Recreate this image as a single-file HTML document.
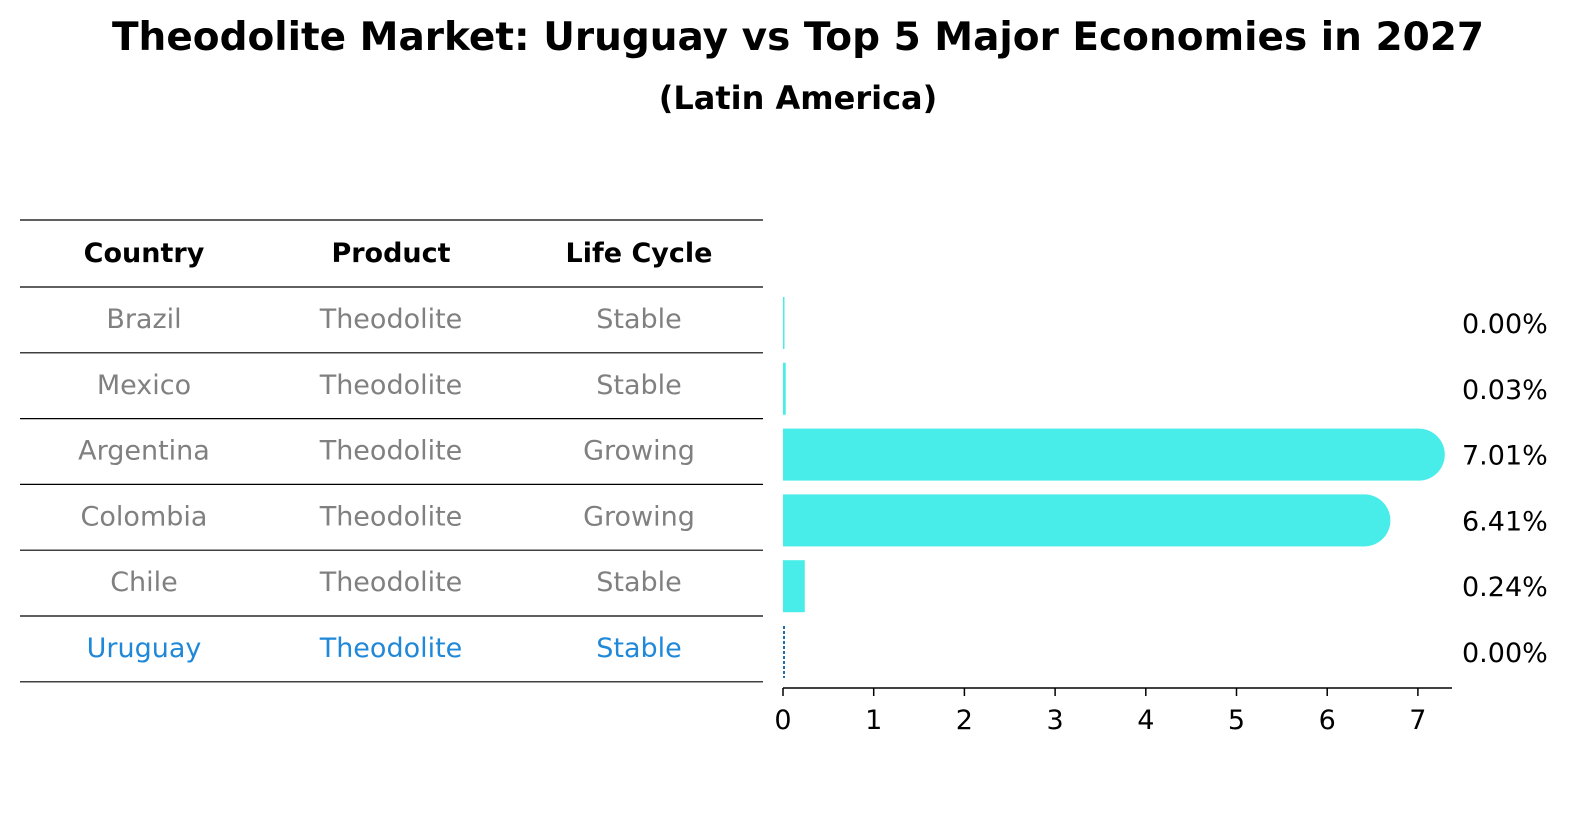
<!DOCTYPE html>
<html><head><meta charset="utf-8"><style>
body{margin:0;background:#fff;font-family:"Liberation Sans","DejaVu Sans",sans-serif;}
svg text{font-family:"DejaVu Sans","Liberation Sans",sans-serif;}
</style></head><body>
<svg width="1586" height="823" viewBox="0 0 1586 823">
<text x="798" y="50" text-anchor="middle" font-size="39" font-weight="bold">Theodolite Market: Uruguay vs Top 5 Major Economies in 2027</text>
<text x="798" y="109" text-anchor="middle" font-size="32" font-weight="bold">(Latin America)</text>
<g id="table"></g>
<g id="bars"></g>
</svg>
<script>
const countries=["Brazil","Mexico","Argentina","Colombia","Chile","Uruguay"];
const products=["Theodolite","Theodolite","Theodolite","Theodolite","Theodolite","Theodolite"];
const cycles=["Stable","Stable","Growing","Growing","Stable","Stable"];
const values=[0.00,0.03,7.01,6.41,0.24,0.00];
const ticks=[0,1,2,3,4,5,6,7];
const NS="http://www.w3.org/2000/svg";
function mk(t,a,p){const e=document.createElementNS(NS,t);for(const k in a)e.setAttribute(k,a[k]);p.appendChild(e);return e;}
const tbl=document.getElementById('table'),bars=document.getElementById('bars');
const rowY=i=>287+i*65.8, colX=[144,391,639];
const x0=783, sx=v=>x0+v*90.7;
const FS=27;
[220,287].forEach(y=>{const l=mk('line',{x1:20,x2:763,y1:y,y2:y,stroke:'#000','stroke-width':1.2},tbl);});
["Country","Product","Life Cycle"].forEach((h,j)=>{const t=mk('text',{x:colX[j],y:262,'text-anchor':'middle','font-size':FS,'font-weight':'bold'},tbl);t.textContent=h;});
countries.forEach((c,i)=>{
  const y=rowY(i), col=c==="Uruguay"?'#1f88d9':'#808080';
  [c,products[i],cycles[i]].forEach((v,j)=>{const t=mk('text',{x:colX[j],y:y+41,'text-anchor':'middle','font-size':FS,fill:col},tbl);t.textContent=v;});
  const l=mk('line',{x1:20,x2:763,y1:y+65.8,y2:y+65.8,stroke:'#000','stroke-width':1.2},tbl);
  
  
  const cy=y+36, h=52, w=values[i]*90.7;
  if(c==="Uruguay"){
    const b=mk('line',{x1:x0+1,x2:x0+1,y1:cy-26,y2:cy+26,stroke:'#1f6fb0','stroke-width':2,'stroke-dasharray':'3,2'},bars);
    
    
  } else {
    const b=mk('rect',{x:x0,y:cy-h/2,width:Math.max(w,1.5),height:h,fill:'#48ece8'},bars);
    
    
    if(w>h){const cap=mk('circle',{cx:x0+w,cy:cy,r:h/2,fill:'#48ece8'},bars);}
  }
  const t=mk('text',{x:1462,y:cy+10,'font-size':FS},bars);t.textContent=values[i].toFixed(2)+'%';
  
  
});
const ax=mk('line',{x1:x0,x2:1452,y1:688,y2:688,stroke:'#000','stroke-width':1.5},bars);


ticks.forEach(v=>{
  const tk=mk('line',{x1:sx(v),x2:sx(v),y1:688,y2:696,stroke:'#000','stroke-width':1.5},bars);
  
  
  const t=mk('text',{x:sx(v),y:729,'text-anchor':'middle','font-size':FS},bars);t.textContent=v;
  
  
});
</script>
</body></html>
